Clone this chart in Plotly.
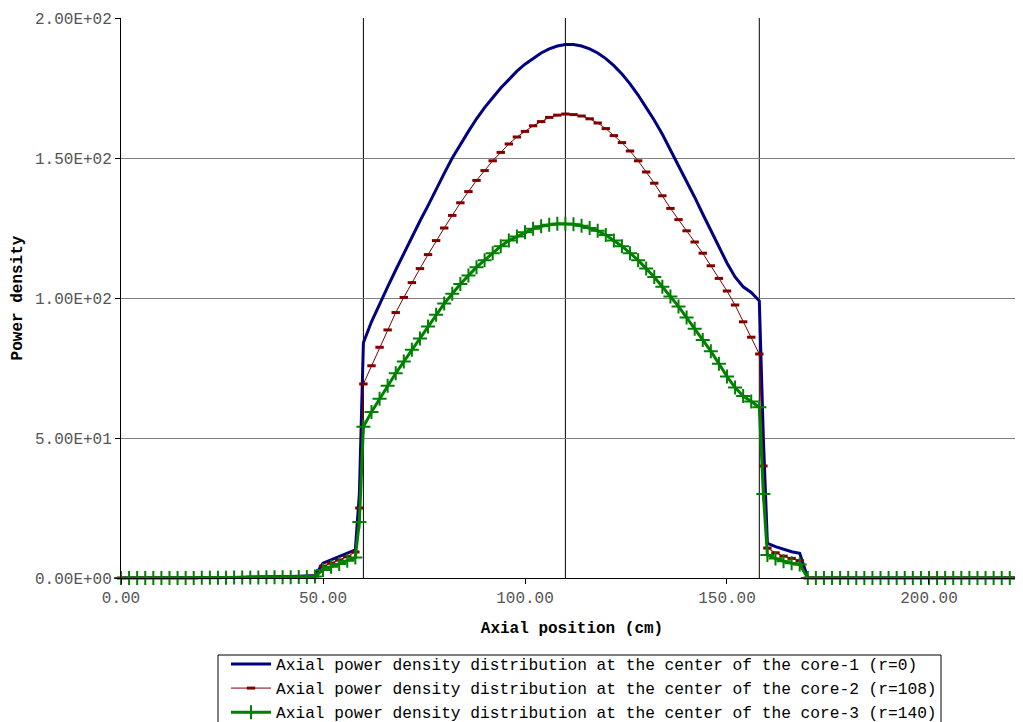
import plotly.graph_objects as go

# Axial positions (cm)
axial_cm = [0, 2, 4, 6, 8, 10, 12, 14, 16, 18,
            20, 22, 24, 26, 28, 30, 32, 34, 36, 38, 40, 42, 44, 46,
            48, 50, 52, 54, 56, 58, 59,
            60, 62, 64, 66, 68, 70, 72, 74, 76, 78,
            80, 82, 84, 86, 88, 90, 92, 94, 96, 98,
            100, 102, 104, 106, 108, 110, 112, 114, 116, 118,
            120, 122, 124, 126, 128, 130, 132, 134, 136, 138,
            140, 142, 144, 146, 148, 150, 152, 154, 156, 158, 159,
            160, 162, 164, 166, 168, 170,
            172, 174, 176, 178, 180, 182, 184, 186, 188, 190, 192, 194, 196,
            198, 200, 202, 204, 206, 208, 210, 212, 214, 216, 218, 220, 222]

core1_r0 = [0, 0, 0, 0, 0, 0, 0, 0, 0, 0,
            0.1, 0.1, 0.2, 0.2, 0.2, 0.3, 0.3, 0.3, 0.4, 0.4, 0.5, 0.5, 0.6, 0.7,
            0.9, 5.3, 6.5, 7.5, 8.8, 10.0, 30,
            84, 91.5, 98, 104, 110, 116, 122, 127.5, 133, 139,
            144.5, 150, 155, 159.5, 164, 168, 171.5, 175, 178, 181,
            183.5, 185.5, 187.5, 189, 190, 190.5, 190.5, 190, 189, 187.5,
            185.5, 183, 180, 176.5, 172.5, 168, 163.5, 158.5, 153, 147.5,
            142, 136, 130, 124, 118, 112.5, 107.5, 104, 102, 99, 50,
            12.4, 11.2, 10.2, 9.4, 8.8, 0,
            0, 0, 0, 0, 0, 0, 0, 0, 0, 0, 0, 0, 0,
            0, 0, 0, 0, 0, 0, 0, 0, 0, 0, 0, 0, 0]

core2_r108 = [0, 0, 0, 0, 0, 0, 0, 0, 0, 0,
              0.1, 0.1, 0.1, 0.2, 0.2, 0.2, 0.3, 0.3, 0.3, 0.3, 0.4, 0.4, 0.5, 0.5,
              0.7, 4.2, 5.3, 6.4, 7.6, 9.3, 25,
              69.3, 75.8, 82.4, 88.6, 94.8, 100.2, 105.5, 110.5, 115.5, 120.5,
              125, 129.5, 134, 138, 142, 145.5, 149, 152, 155, 157.5,
              159.5, 161.5, 163, 164.5, 165.3, 165.7, 165.5, 165, 164, 162.5,
              160.5, 158, 155.5, 152.5, 149, 145, 141, 136.5, 132, 128,
              124, 120, 116, 111.5, 107, 102.5, 97.5, 91.5, 86, 80, 40,
              10.7, 9.0, 7.8, 7.0, 6.2, 0,
              0, 0, 0, 0, 0, 0, 0, 0, 0, 0, 0, 0, 0,
              0, 0, 0, 0, 0, 0, 0, 0, 0, 0, 0, 0, 0]

core3_r140 = [0, 0, 0, 0, 0, 0, 0, 0, 0, 0,
              0.1, 0.1, 0.1, 0.1, 0.2, 0.2, 0.2, 0.2, 0.3, 0.3, 0.3, 0.3, 0.4, 0.4,
              0.5, 2.9, 4.0, 5.0, 6.2, 7.3, 20,
              54, 59.3, 64, 68.7, 73.1, 77.3, 81.5, 85.5, 89.8, 94,
              98, 101.5, 105, 108, 111, 113.5, 116, 118.5, 120.5, 122,
              123.5, 124.7, 125.6, 126.2, 126.5, 126.5, 126.3, 125.8, 125, 124,
              122.5, 120.5, 118.5, 116, 113.5, 110.5, 107.5, 104, 100.5, 97,
              93, 89, 85, 81, 76.5, 72, 68, 65, 63, 61, 30,
              8.2, 7.0, 6.0, 5.3, 4.8, 0,
              0, 0, 0, 0, 0, 0, 0, 0, 0, 0, 0, 0, 0,
              0, 0, 0, 0, 0, 0, 0, 0, 0, 0, 0, 0, 0]

series_names = [
    "Axial power density distribution at the center of the core-1 (r=0)",
    "Axial power density distribution at the center of the core-2 (r=108)",
    "Axial power density distribution at the center of the core-3 (r=140)",
]

core_lines = [60, 110, 158]

x_tickvals = [0, 50, 100, 150, 200]
x_ticktext = ["0.00", "50.00", "100.00", "150.00", "200.00"]
y_tickvals = [0, 50, 100, 150, 200]
y_ticktext = ["0.00E+00", "5.00E+01", "1.00E+02", "1.50E+02", "2.00E+02"]

FONT = "Liberation Mono, Courier New, monospace"

# layout geometry (figure pixels; page adds an 8px body offset)
ML, MR, MT, MB = 113, 8, 10, 152
PW, PH = 1023 - ML - MR, 722 - MT - MB


def px_to_paper_x(px):
    return (px - ML) / PW


def px_to_paper_y(py):
    return (722 - MB - py) / PH


fig = go.Figure()
fig.add_trace(go.Scatter(
    x=axial_cm, y=core1_r0, name=series_names[0], mode="lines",
    line=dict(color="#000080", width=3), cliponaxis=False))
fig.add_trace(go.Scatter(
    x=axial_cm, y=core2_r108, name=series_names[1], mode="lines+markers",
    line=dict(color="#800000", width=1),
    marker=dict(symbol="line-ew", size=6, line=dict(color="#800000", width=3)),
    cliponaxis=False))
fig.add_trace(go.Scatter(
    x=axial_cm, y=core3_r140, name=series_names[2], mode="lines+markers",
    line=dict(color="#008000", width=3),
    marker=dict(symbol="cross-thin", size=10, line=dict(color="#008000", width=2)),
    cliponaxis=False))

for xv in core_lines:
    fig.add_shape(type="line", xref="x", yref="paper", x0=xv, x1=xv, y0=0, y1=1,
                  line=dict(color="black", width=1), layer="below")

# legend frame
fig.add_shape(type="rect", xref="paper", yref="paper",
              x0=px_to_paper_x(210), x1=px_to_paper_x(933),
              y0=px_to_paper_y(647), y1=px_to_paper_y(740),
              line=dict(color="black", width=1), fillcolor="rgba(0,0,0,0)")

fig.update_layout(
    width=1023, height=722,
    margin=dict(l=ML, r=MR, t=MT, b=MB, autoexpand=False),
    paper_bgcolor="white", plot_bgcolor="white",
    font=dict(family=FONT, size=16, color="black"),
    showlegend=True,
    legend=dict(
        x=px_to_paper_x(218), y=px_to_paper_y(639), xanchor="left", yanchor="top",
        borderwidth=0, bgcolor="rgba(0,0,0,0)",
        font=dict(family=FONT, size=16.2, color="black"),
        tracegroupgap=0, itemwidth=40,
    ),
    xaxis=dict(
        range=[0, 223.27], tickvals=x_tickvals, ticktext=x_ticktext,
        showgrid=False, zeroline=False, showline=True, linecolor="black", linewidth=1,
        ticks="outside", ticklen=5, tickcolor="black",
        tickfont=dict(family=FONT, size=16, color="#555555"),
        title=dict(text="<b>Axial position (cm)</b>", standoff=14,
                   font=dict(family=FONT, size=16, color="black")),
    ),
    yaxis=dict(
        range=[0, 200], tickvals=y_tickvals, ticktext=y_ticktext,
        showgrid=True, gridcolor="#808080", gridwidth=1,
        zeroline=False, showline=True, linecolor="black", linewidth=1,
        ticks="outside", ticklen=5, tickcolor="black",
        tickfont=dict(family=FONT, size=16, color="#555555"),
        title=dict(text="<b>Power density</b>", standoff=8,
                   font=dict(family=FONT, size=16, color="black")),
    ),
)

fig.write_html("out.html")
